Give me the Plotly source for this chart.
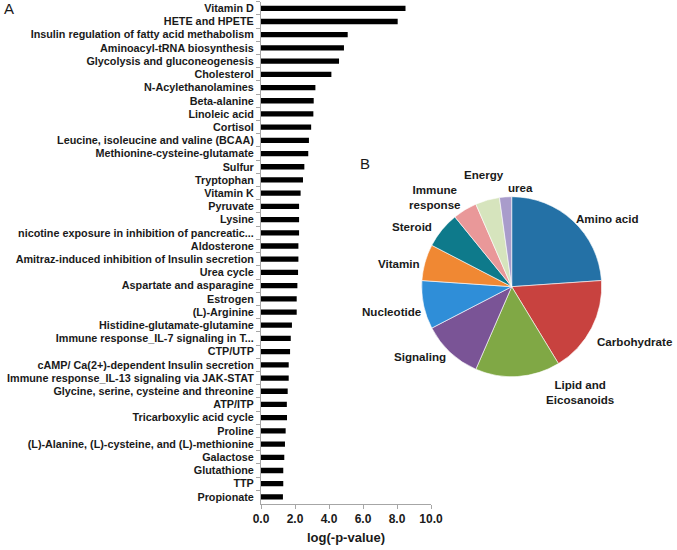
import plotly.graph_objects as go

W, H = 677, 550

# ---------------- data ----------------
pathways = [
    "Vitamin D", "HETE and HPETE", "Insulin regulation of fatty acid methabolism",
    "Aminoacyl-tRNA biosynthesis", "Glycolysis and gluconeogenesis", "Cholesterol",
    "N-Acylethanolamines", "Beta-alanine", "Linoleic acid", "Cortisol",
    "Leucine, isoleucine and valine (BCAA)", "Methionine-cysteine-glutamate", "Sulfur",
    "Tryptophan", "Vitamin K", "Pyruvate", "Lysine",
    "nicotine exposure in inhibition of pancreatic...", "Aldosterone",
    "Amitraz-induced inhibition of Insulin secretion", "Urea cycle",
    "Aspartate and asparagine", "Estrogen", "(L)-Arginine",
    "Histidine-glutamate-glutamine", "Immune response_IL-7 signaling in T...",
    "CTP/UTP", "cAMP/ Ca(2+)-dependent Insulin secretion",
    "Immune response_IL-13 signaling via JAK-STAT",
    "Glycine, serine, cysteine and threonine", "ATP/ITP", "Tricarboxylic acid cycle",
    "Proline", "(L)-Alanine, (L)-cysteine, and (L)-methionine", "Galactose",
    "Glutathione", "TTP", "Propionate",
]
neg_log_p = [
    8.50, 8.04, 5.10, 4.88, 4.59, 4.14,
    3.20, 3.10, 3.08, 2.95,
    2.82, 2.78, 2.55,
    2.47, 2.33, 2.24, 2.24,
    2.24, 2.20,
    2.20, 2.18,
    2.14, 2.10, 2.10,
    1.82, 1.75,
    1.71, 1.63,
    1.63,
    1.57, 1.52, 1.53,
    1.45, 1.41, 1.37,
    1.31, 1.31, 1.29,
]
x_tick_vals = [0, 2, 4, 6, 8, 10]
x_tick_text = ["0.0", "2.0", "4.0", "6.0", "8.0", "10.0"]

pie_categories = ["Amino acid", "Carbohydrate", "Lipid and Eicosanoids", "Signaling",
                  "Nucleotide", "Vitamin", "Steroid", "Immune response", "Energy", "urea"]
pie_counts = [11, 8, 7, 5, 4, 3, 3, 2, 2, 1]

# ---------------- styles ----------------
FONT = "Liberation Sans, Arial, sans-serif"
TXT = "#1a1a1a"
AXIS = "#a6a6a6"
pie_colors = ["#2471a6", "#c8423f", "#80a845", "#7a5496", "#2f8ed8",
              "#f08833", "#0e7a8b", "#e99899", "#d6e4bd", "#a99ccb"]
# label display text and positions (pixels) for pie labels
pie_label_text = ["Amino acid", "Carbohydrate", "Lipid and<br>Eicosanoids", "Signaling",
                  "Nucleotide", "Vitamin", "Steroid", "Immune<br>response", "Energy", "urea"]
pie_label_pos = [(607, 218), (635, 341), (580, 392), (420, 356), (392, 311),
                 (399, 263), (412, 226), (435, 197), (484, 174), (520, 187)]


def px(x, y):
    return x / W, 1 - y / H


fig = go.Figure()
fig.add_trace(go.Bar(
    x=neg_log_p, y=pathways, orientation="h",
    marker=dict(color="black", line=dict(width=0)),
    xaxis="x", yaxis="y", showlegend=False,
))
fig.add_trace(go.Pie(
    labels=pie_categories, values=pie_counts, sort=False, direction="clockwise",
    rotation=0, textinfo="none", hoverinfo="label+value",
    marker=dict(colors=pie_colors, line=dict(color="white", width=0.6)),
    domain=dict(x=[421.7 / W, 601.7 / W], y=[1 - 376.7 / H, 1 - 196.7 / H]),
    showlegend=False,
))

bar_left, bar_right = 261, 431
bar_top, bar_bottom = 1.7, 503.5

fig.update_layout(
    width=W, height=H, template="none",
    margin=dict(l=0, r=0, t=0, b=0),
    paper_bgcolor="white", plot_bgcolor="white",
    font=dict(family=FONT, color=TXT),
    bargap=0.6,
    xaxis=dict(
        domain=[bar_left / W, bar_right / W], range=[0, 10],
        tickvals=x_tick_vals, ticktext=x_tick_text,
        showgrid=False, zeroline=False, showline=True, linecolor=AXIS, linewidth=1,
        ticks="outside", ticklen=4, tickcolor=AXIS,
        tickfont=dict(size=12, weight="bold", color=TXT), automargin=False,
        anchor="y", fixedrange=True,
    ),
    yaxis=dict(
        domain=[1 - bar_bottom / H, 1 - bar_top / H],
        autorange="reversed", type="category",
        showgrid=False, zeroline=False, showline=True, linecolor=AXIS, linewidth=1,
        ticks="outside", tickson="boundaries", ticklen=4, tickcolor=AXIS,
        ticklabelstandoff=4,
        tickfont=dict(size=10.8, weight="bold", color=TXT), automargin=False,
        anchor="x", fixedrange=True,
    ),
)

annotations = []
ax, ay = px(346, 537)
annotations.append(dict(text="log(-p-value)", x=ax, y=ay, xref="paper", yref="paper",
                        showarrow=False, xanchor="center", yanchor="middle",
                        font=dict(size=13, weight="bold", color=TXT)))
ax, ay = px(9, 9)
annotations.append(dict(text="A", x=ax, y=ay, xref="paper", yref="paper",
                        showarrow=False, xanchor="center", yanchor="middle",
                        font=dict(size=15, color=TXT)))
ax, ay = px(365, 163)
annotations.append(dict(text="B", x=ax, y=ay, xref="paper", yref="paper",
                        showarrow=False, xanchor="center", yanchor="middle",
                        font=dict(size=15, color=TXT)))
for t, (lx, ly) in zip(pie_label_text, pie_label_pos):
    ax, ay = px(lx, ly)
    annotations.append(dict(text=t, x=ax, y=ay, xref="paper", yref="paper",
                            showarrow=False, xanchor="center", yanchor="middle",
                            align="center",
                            font=dict(size=11.6, weight="bold", color=TXT)))
fig.update_layout(annotations=annotations)

fig.write_html("out.html", config={"displayModeBar": False},
               post_script="document.body.style.margin='0';")
